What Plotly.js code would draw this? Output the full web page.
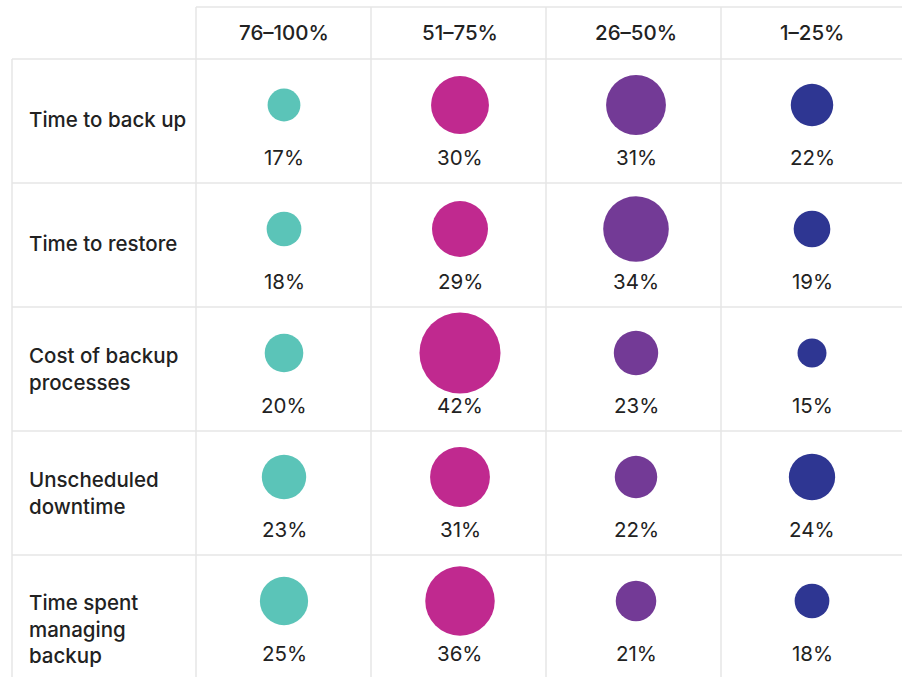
<!DOCTYPE html>
<html><head><meta charset="utf-8">
<script src="https://cdn.plot.ly/plotly-3.0.1.min.js"></script>
<style>html,body{margin:0;padding:0;background:#fff}#chart{width:902px;height:677px}</style>
</head><body><div id="chart"></div>
<script>
// ---- data ----
const columns = ["76–100%", "51–75%", "26–50%", "1–25%"];
const rows = ["Time to back up", "Time to restore", "Cost of backup<br>processes", "Unscheduled<br>downtime", "Time spent<br>managing<br>backup"];
const v76_100 = [17, 18, 20, 23, 25];
const v51_75  = [30, 29, 42, 31, 36];
const v26_50  = [31, 34, 23, 22, 21];
const v1_25   = [22, 19, 15, 24, 18];
const seriesValues = [v76_100, v51_75, v26_50, v1_25];
const colors = ["#5BC4B8", "#C0298F", "#733A96", "#2E3692"];

// ---- style / layout helpers ----
const W = 902, H = 677;
const FONT = "Inter, 'Noto Sans', sans-serif";
const TXT = "#222222";
const GRID = "#e6e6e6";
const px = v => v / W;           // pixel -> paper x
const py = v => 1 - v / H;       // pixel -> paper y
const SIZE_SCALE = 1.93;

const traces = columns.map((col, ci) => ({
  type: "scatter", mode: "markers",
  x: rows.map(() => col),
  y: rows,
  marker: { size: seriesValues[ci].map(v => v * SIZE_SCALE), color: colors[ci], line: { width: 0 }, opacity: 1 },
  hoverinfo: "skip", showlegend: false, cliponaxis: false
}));

const annotations = [];
columns.forEach((col, ci) => {
  annotations.push({ x: col, xref: "x", y: py(33), yref: "paper", text: col, showarrow: false,
    font: { family: FONT, size: 20.5, color: TXT, weight: 500 }, xanchor: "center", yanchor: "middle" });
  rows.forEach((r, ri) => {
    annotations.push({ x: col, xref: "x", y: r, yref: "y", text: seriesValues[ci][ri] + "%", showarrow: false,
      yshift: -52, font: { family: FONT, size: 20.5, color: TXT }, xanchor: "center", yanchor: "middle" });
  });
});
rows.forEach((r, ri) => {
  const lines = r.split("<br>").length;
  annotations.push({ x: px(27), xref: "paper", y: r, yref: "y", text: r, showarrow: false, align: "left",
    xanchor: "left", yanchor: "middle", yshift: lines > 2 ? -28 : (lines > 1 ? -16 : -14.5),
    font: { family: FONT, size: 20.5, color: TXT, weight: 500 } });
});

const shapes = [];
const line = (x0, y0, x1, y1) => shapes.push({ type: "line", xref: "paper", yref: "paper",
  x0: px(x0), y0: py(y0), x1: px(x1), y1: py(y1), line: { color: GRID, width: 1.5 }, layer: "below" });
line(196, 7, W, 7);
[59, 183, 307, 431, 555].forEach(y => line(12, y, W, y));
line(12, 59, 12, H);
[196, 371, 546, 721].forEach(x => line(x, 7, x, H));

const layout = {
  width: W, height: H,
  margin: { l: 0, r: 0, t: 0, b: 0 },
  paper_bgcolor: "#ffffff", plot_bgcolor: "#ffffff",
  xaxis: { type: "category", categoryorder: "array", categoryarray: columns,
    range: [-284 / 176, (W - 284) / 176], showgrid: false, zeroline: false, showticklabels: false, showline: false, fixedrange: true },
  yaxis: { type: "category", categoryorder: "array", categoryarray: rows,
    range: [(H - 105) / 124, -105 / 124], showgrid: false, zeroline: false, showticklabels: false, showline: false, fixedrange: true },
  annotations, shapes, showlegend: false, hovermode: false
};
Plotly.newPlot("chart", traces, layout, { staticPlot: true, displayModeBar: false });
</script></body></html>
